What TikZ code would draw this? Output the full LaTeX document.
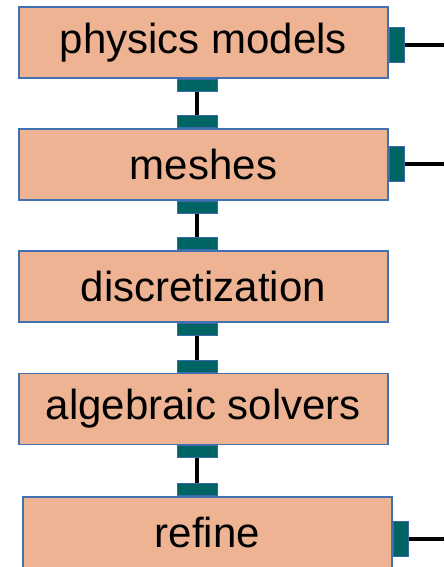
\documentclass[tikz,border=0pt]{standalone}
\usepackage{fontspec}
\setmainfont{Liberation Sans}
\usepackage{tikz}
\usetikzlibrary{positioning, calc}

\definecolor{boxfill}{RGB}{237,179,146}
\definecolor{boxedge}{RGB}{65,113,176}
\definecolor{portfill}{RGB}{0,100,100}
\definecolor{portedge}{RGB}{58,106,170}

\begin{document}
\begin{tikzpicture}[x=1pt, y=-1pt,
    layer/.style={draw=boxedge, line width=1.8pt, fill=boxfill, minimum width=369pt, minimum height=71pt, inner sep=0pt, font=\fontsize{42}{48}\selectfont},
    vport/.style={draw=portedge, line width=1pt, fill=portfill, minimum width=40pt, minimum height=12pt, inner sep=0pt},
    hport/.style={draw=portedge, line width=1pt, fill=portfill, minimum width=15pt, minimum height=35pt, inner sep=0pt},
    link/.style={line width=4pt, black},
]
    \useasboundingbox (0,0) rectangle (444,567);

    \node[layer] (phys) at (203.5,42.5) {physics models};
    \node[layer] (mesh) at (203.5,164.5) {meshes};
    \node[layer] (disc) at (203.5,286.5) {discretization};
    \node[layer] (solv) at (203.5,409) {algebraic solvers};
    \node[layer] (refn) at (207.5,532.5) {refine};

    % ports between the layers
    \node[vport, anchor=north] (phys-s) at ([xshift=-6.5pt]phys.south) {};
    \node[vport, anchor=south] (mesh-n) at ([xshift=-6.5pt]mesh.north) {};
    \node[vport, anchor=north] (mesh-s) at ([xshift=-6.5pt]mesh.south) {};
    \node[vport, anchor=south] (disc-n) at ([xshift=-6.5pt]disc.north) {};
    \node[vport, anchor=north] (disc-s) at ([xshift=-6.5pt]disc.south) {};
    \node[vport, anchor=south] (solv-n) at ([xshift=-6.5pt]solv.north) {};
    \node[vport, anchor=north] (solv-s) at ([xshift=-6.5pt]solv.south) {};
    \node[vport, anchor=south] (refn-n) at ([xshift=-10.5pt]refn.north) {};

    \draw[link] (phys-s) -- (mesh-n);
    \draw[link] (mesh-s) -- (disc-n);
    \draw[link] (disc-s) -- (solv-n);
    \draw[link] (solv-s) -- (refn-n);

    % ports on the right
    \node[hport, anchor=west] (phys-e) at ([yshift=-3pt]phys.east) {};
    \node[hport, anchor=west] (mesh-e) at ([yshift=1pt]mesh.east) {};
    \node[hport, anchor=west] (refn-e) at ([yshift=-6.5pt]refn.east) {};

    \coordinate (phys-out) at (444,45.5);
    \coordinate (mesh-out) at (444,163.5);
    \coordinate (refn-out) at (444,539);

    \draw[link] (phys-e) -- (phys-out);
    \draw[link] (mesh-e) -- (mesh-out);
    \draw[link] (refn-e) -- (refn-out);
\end{tikzpicture}
\end{document}
